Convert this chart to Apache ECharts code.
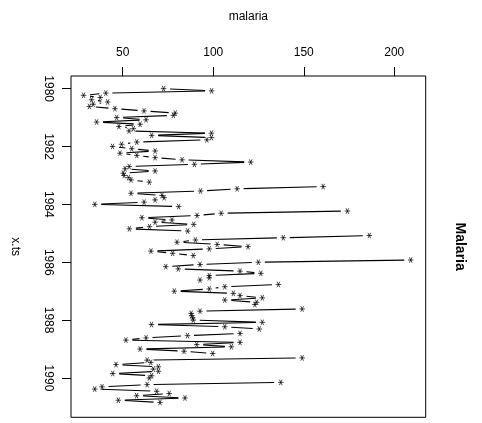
<!DOCTYPE html>
<html><head><meta charset="utf-8">
<script src="https://cdn.jsdelivr.net/npm/echarts@6/dist/echarts.min.js"></script>
<style>html,body{margin:0;padding:0;background:#fff}#c{width:482px;height:423px}</style>
</head><body><div id="c"></div>
<script>
// 13 observations per year starting 1980 (null = missing)
const startYear = 1980;
const perYear = 13;
const malaria = [
72.6,99.1,40.7,28.4,37.6,32.8,41.7,33.7,31.6,45.7,61.8,79.0,78.0,
46.7,62.9,35.6,59.6,47.9,55.9,53.5,99.0,66.0,99.0,96.5,57.8,49.4,
44.4,55.0,67.9,48.5,57.8,67.9,82.8,120.7,89.6,53.6,51.3,67.9,50.3,
50.8,53.2,54.6,64.7,null,160.7,113.2,93.0,54.6,71.7,72.9,67.9,61.8,
34.6,80.9,null,174.1,104.4,91.1,60.6,77.2,67.9,89.2,64.8,53.7,85.9,
null,186.2,138.7,90.2,80.0,102.2,119.2,97.8,65.6,77.6,89.0,null,209.1,
124.9,92.7,73.8,80.7,114.8,126.3,97.8,97.8,92.7,null,136.0,106.4,97.8,
78.5,111.1,114.8,127.1,106.4,124.0,123.0,null,149.1,92.7,87.8,88.1,88.7,
89.0,127.1,65.9,106.4,125.4,null,114.8,85.8,62.9,51.8,114.8,90.9,110.0,
59.6,83.9,99.7,null,149.1,63.5,65.5,46.3,69.7,66.9,69.7,44.5,66.0,
64.7,null,137.3,63.5,38.6,34.6,68.8,75.7,57.7,84.4,47.6,70.6,null
];
const valueTicks = [50, 100, 150, 200];
const timeTicks = [1980, 1982, 1984, 1986, 1988, 1990];

const points = malaria.map((v, i) => [v, startYear + i / perYear]);
const starData = points.filter(p => p[0] !== null);
const segData = [];
for (let i = 0; i + 1 < points.length; i++) {
  if (points[i][0] !== null && points[i + 1][0] !== null) {
    segData.push([points[i][0], points[i][1], points[i + 1][0], points[i + 1][1]]);
  }
}

const FONT = '"Liberation Sans", Arial, Helvetica, sans-serif';
const chart = echarts.init(document.getElementById('c'), null, {renderer: 'canvas'});
const GAP = 6.5;
const gridLeft = 71, gridTop = 76, gridW = 354.7, gridH = 341.3;
chart.setOption({
  animation: false,
  backgroundColor: '#fff',
  grid: {left: gridLeft, top: gridTop, width: gridW, height: gridH, show: true, borderColor: '#000', borderWidth: 1, backgroundColor: 'transparent'},
  xAxis: {
    type: 'value', position: 'top', min: 21.45, max: 217.35,
    axisLine: {show: false},
    splitLine: {show: false},
    axisTick: {show: true, inside: false, length: 9, lineStyle: {color: '#000', width: 1}, customValues: valueTicks},
    axisLabel: {show: true, margin: 17, color: '#000', fontSize: 12, fontFamily: FONT, customValues: valueTicks, formatter: v => String(v)}
  },
  yAxis: {
    type: 'value', inverse: true, min: 1979.563, max: 1991.36,
    axisLine: {show: false},
    splitLine: {show: false},
    axisTick: {show: true, inside: false, length: 9, lineStyle: {color: '#000', width: 1}, customValues: timeTicks},
    axisLabel: {show: true, rotate: -90, margin: 17, color: '#000', fontSize: 12, fontFamily: FONT, customValues: timeTicks, formatter: v => String(v)}
  },
  graphic: [
    {type: 'text', x: gridLeft + gridW / 2, y: 17, style: {text: 'malaria', font: '12px ' + FONT, fill: '#000', align: 'center', verticalAlign: 'middle'}},
    {type: 'text', x: 15, y: gridTop + gridH / 2, rotation: -Math.PI / 2, style: {text: 'x.ts', font: '12px ' + FONT, fill: '#000', align: 'center', verticalAlign: 'middle'}},
    {type: 'text', x: 460, y: gridTop + gridH / 2, rotation: -Math.PI / 2, style: {text: 'Malaria', font: 'bold 14px ' + FONT, fill: '#000', align: 'center', verticalAlign: 'middle'}}
  ],
  series: [
    {
      type: 'custom',
      data: segData,
      encode: {x: [0, 2], y: [1, 3]},
      silent: true,
      renderItem: function (params, api) {
        const p1 = api.coord([api.value(0), api.value(1)]);
        const p2 = api.coord([api.value(2), api.value(3)]);
        const dx = p2[0] - p1[0], dy = p2[1] - p1[1];
        const len = Math.sqrt(dx * dx + dy * dy);
        if (len <= 2 * GAP) return null;
        const ux = dx / len, uy = dy / len;
        return {
          type: 'line',
          shape: {x1: p1[0] + ux * GAP, y1: p1[1] + uy * GAP, x2: p2[0] - ux * GAP, y2: p2[1] - uy * GAP},
          style: {stroke: '#000', lineWidth: 1.1}
        };
      }
    },
    {
      type: 'scatter',
      data: starData,
      symbol: 'path://M0,5L10,5M2.5,0.67L7.5,9.33M2.5,9.33L7.5,0.67',
      symbolSize: 5.5,
      itemStyle: {color: '#000', borderColor: '#000', borderWidth: 0.9},
      silent: true
    }
  ]
});
</script></body></html>
